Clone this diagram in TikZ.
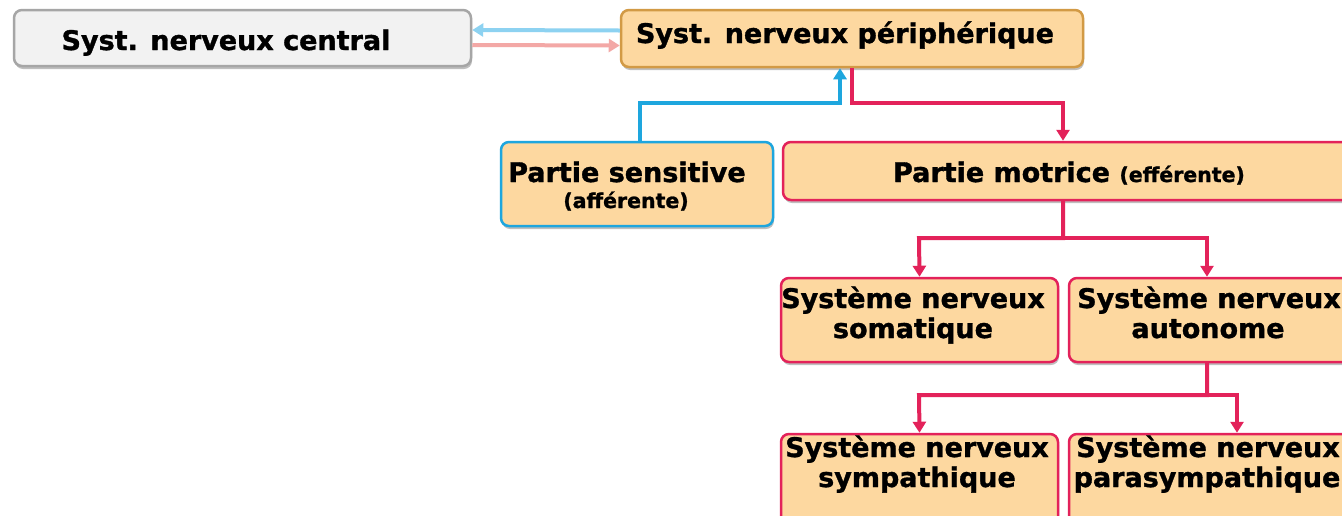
\documentclass[tikz,border=0pt]{standalone}
\usepackage{fontspec}
\setmainfont{DejaVu Sans}[BoldFeatures={FakeBold=1.2}]
\usetikzlibrary{arrows.meta,shadows}
\definecolor{orfill}{HTML}{FDD8A0}
\definecolor{gold}{HTML}{D29A45}
\definecolor{crim}{HTML}{E3225A}
\definecolor{skyb}{HTML}{1EA6DE}
\definecolor{lblue}{HTML}{8DD2F1}
\definecolor{lpink}{HTML}{F3A8A6}
\definecolor{cfill}{HTML}{F2F2F2}
\definecolor{cdraw}{HTML}{A6A6A6}
\tikzset{
  box/.style={draw, rounded corners=8pt, line width=2.5pt, fill=orfill, inner sep=0pt,
    drop shadow={shadow xshift=1pt, shadow yshift=-3pt, opacity=0.25, fill=black}},
  big/.style={font=\bfseries\fontsize{27}{30}\selectfont, inner sep=0pt, anchor=base},
  small/.style={font=\bfseries\fontsize{20.5}{24}\selectfont, inner sep=0pt, anchor=base},
  conn/.style={line width=4pt, -{Triangle[width=13pt,length=11pt]}},
}
\begin{document}
\begin{tikzpicture}[x=1pt,y=-1pt]
\useasboundingbox (0,0) rectangle (1342,515);
\fill[white] (0,0) rectangle (1342,515);
\clip (0,0) rectangle (1342,515);
% boxes
\node[box, draw=cdraw, fill=cfill, minimum width=457pt, minimum height=56pt] (central) at (242.5,38) {};
\node[box, draw=gold, minimum width=462pt, minimum height=57pt] (periph) at (852,38.5) {};
\node[box, draw=skyb, minimum width=272pt, minimum height=84pt] (sens) at (637,184) {};
\node[box, draw=crim, minimum width=580pt, minimum height=58pt] (motr) at (1073,171) {};
\node[box, draw=crim, minimum width=277pt, minimum height=84pt] (soma) at (919.5,320) {};
\node[box, draw=crim, minimum width=290pt, minimum height=84pt] (auto) at (1214,320) {};
\node[box, draw=crim, minimum width=277pt, minimum height=110pt] (symp) at (919.5,489) {};
\node[box, draw=crim, minimum width=290pt, minimum height=110pt] (para) at (1214,489) {};
% texts
\node[big] (centralt) at (226,50) {Syst. nerveux central};
\node[big] (periapht) at (845,43) {Syst. nerveux périphérique};
\node[big] (senst1) at (627,182) {Partie sensitive};
\node[small] (senst2) at (626,208) {(afférente)};
\node[big] (motrt) at (1069,182) {Partie motrice {\fontsize{20.5}{24}\selectfont (efférente)}};
\node[big] (somat1) at (913,308) {Système nerveux};
\node[big] (somat2) at (913,338) {somatique};
\node[big] (autot1) at (1209,308) {Système nerveux};
\node[big] (autot2) at (1208,338) {autonome};
\node[big] (sympt1) at (917,457) {Système nerveux};
\node[big] (sympt2) at (917,487) {sympathique};
\node[big] (parat1) at (1208,457) {Système nerveux};
\node[big] (parat2) at (1207,487) {parasympathique};
% connectors
\draw[conn, lblue] ([yshift=8pt]periph.west) -- ([yshift=8pt]central.east);
\draw[conn, lpink] ([yshift=-7pt]central.east) -- ([yshift=-7pt]periph.west);
\draw[conn, skyb] ([xshift=3pt]sens.north) |- (840,103) -- ([xshift=-12pt]periph.south);
\draw[conn, crim] (periph.south) |- (1063,103) -- ([xshift=-10pt]motr.north);
\draw[conn, crim] ([xshift=-10pt]motr.south) |- (919,238) -- (soma.north);
\draw[conn, crim] ([xshift=-10pt]motr.south) |- (1207,238) -- ([xshift=-7pt]auto.north);
\draw[conn, crim] ([xshift=-7pt]auto.south) |- (919,395) -- (symp.north);
\draw[conn, crim] ([xshift=-7pt]auto.south) |- (1237,395) -- ([xshift=23pt]para.north);
\end{tikzpicture}
\end{document}
